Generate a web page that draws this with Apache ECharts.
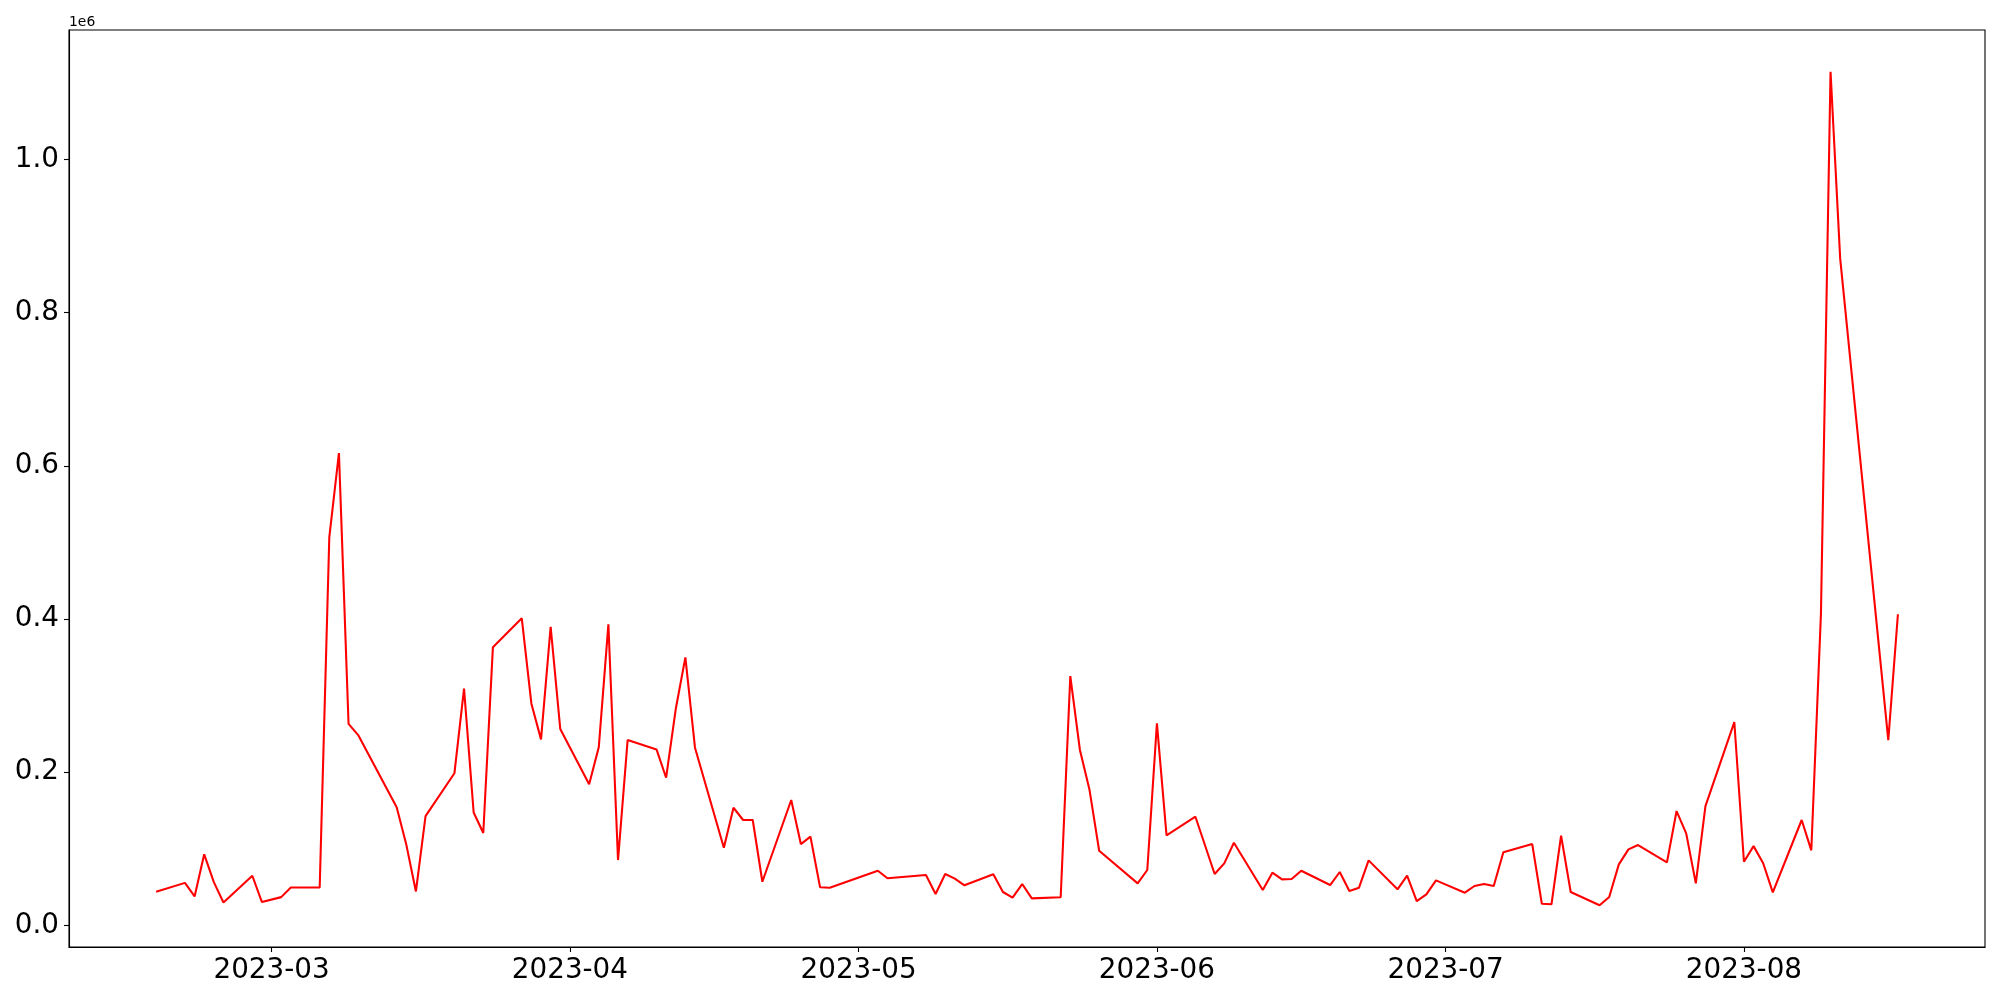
<!DOCTYPE html>
<html>
<head>
<meta charset="utf-8">
<script src="https://cdn.jsdelivr.net/npm/echarts@6/dist/echarts.min.js"></script>
<style>
  html, body { margin: 0; padding: 0; background: #fff; }
  #chart { width: 2000px; height: 1000px; }
</style>
</head>
<body>
<div id="chart"></div>
<script>
// ---- data ----
const dates = [
  "2023-02-17","2023-02-20","2023-02-21","2023-02-22","2023-02-23","2023-02-24","2023-02-27","2023-02-28",
  "2023-03-02","2023-03-03","2023-03-06","2023-03-07","2023-03-08","2023-03-09","2023-03-10",
  "2023-03-14","2023-03-15","2023-03-16","2023-03-17","2023-03-20","2023-03-21","2023-03-22","2023-03-23","2023-03-24",
  "2023-03-27","2023-03-28","2023-03-29","2023-03-30","2023-03-31",
  "2023-04-03","2023-04-04","2023-04-05","2023-04-06","2023-04-07",
  "2023-04-10","2023-04-11","2023-04-12","2023-04-13","2023-04-14",
  "2023-04-17","2023-04-18","2023-04-19","2023-04-20","2023-04-21",
  "2023-04-24","2023-04-25","2023-04-26","2023-04-27","2023-04-28",
  "2023-05-03","2023-05-04","2023-05-08","2023-05-09","2023-05-10","2023-05-11","2023-05-12",
  "2023-05-15","2023-05-16","2023-05-17","2023-05-18","2023-05-19",
  "2023-05-22","2023-05-23","2023-05-24","2023-05-25","2023-05-26",
  "2023-05-30","2023-05-31","2023-06-01","2023-06-02",
  "2023-06-05","2023-06-07","2023-06-08","2023-06-09",
  "2023-06-12","2023-06-13","2023-06-14","2023-06-15","2023-06-16",
  "2023-06-19","2023-06-20","2023-06-21","2023-06-22","2023-06-23",
  "2023-06-26","2023-06-27","2023-06-28","2023-06-29","2023-06-30",
  "2023-07-03","2023-07-04","2023-07-05","2023-07-06","2023-07-07",
  "2023-07-10","2023-07-11","2023-07-12","2023-07-13","2023-07-14",
  "2023-07-17","2023-07-18","2023-07-19","2023-07-20","2023-07-21",
  "2023-07-24","2023-07-25","2023-07-26","2023-07-27","2023-07-28",
  "2023-07-31","2023-08-01","2023-08-02","2023-08-03","2023-08-04",
  "2023-08-07","2023-08-08","2023-08-09","2023-08-10","2023-08-11",
  "2023-08-16","2023-08-17"
];
const values = [
  43700, 55400, 37700, 92700, 56400, 29800, 64700, 30300,
  36800, 49300, 49300, 507000, 616700, 263000, 248400,
  154300, 105400, 44200, 142500, 198500, 309000, 147300, 120600, 363200,
  400900, 289400, 242800, 389800, 256300,
  184100, 232400, 393000, 85200, 241900,
  229700, 192700, 282400, 349800, 231900,
  101300, 153500, 137500, 137500, 56900,
  163600, 106100, 115700, 49600, 49100,
  71300, 61400, 65700, 40900, 67000, 60900, 52200,
  66600, 43500, 36100, 53900, 35200,
  36600, 325400, 228900, 176600, 97400,
  54800, 72200, 263700, 117500,
  141800, 67000, 80900, 107800,
  46100, 68700, 60000, 60400, 71300,
  52600, 69600, 44800, 49100, 84800,
  47000, 64800, 31700, 40500, 58700,
  42600, 51300, 53900, 51300, 95300,
  106100, 28200, 27400, 117000, 43500,
  26100, 36900, 79600, 99200, 104800,
  82200, 149200, 120100, 54800, 155700,
  265400, 83000, 103400, 81000, 43000,
  137500, 97900, 406100, 1114600, 870800,
  241900, 406100
];
const xTickLabels = ["2023-03","2023-04","2023-05","2023-06","2023-07","2023-08"];
const yTickValues = [0, 200000, 400000, 600000, 800000, 1000000];
const offsetText = "1e6";

// ---- build options ----
function toTs(s) {
  const p = s.split("-").map(Number);
  return Date.UTC(p[0], p[1] - 1, p[2] || 1);
}
function fmtMonth(v) {
  const d = new Date(v);
  const m = d.getUTCMonth() + 1;
  return d.getUTCFullYear() + "-" + (m < 10 ? "0" + m : m);
}
const seriesData = dates.map((d, i) => [toTs(d), values[i]]);
const xs = seriesData.map(p => p[0]);
const xMinD = Math.min(...xs), xMaxD = Math.max(...xs);
const xPad = (xMaxD - xMinD) * 0.05;
const yMinD = Math.min(...values), yMaxD = Math.max(...values);
const yPad = (yMaxD - yMinD) * 0.05;
const xTickValues = xTickLabels.map(toTs);

const FONT = "DejaVu Sans";
const chart = echarts.init(document.getElementById("chart"), null, { renderer: "canvas" });
chart.setOption({
  animation: false,
  backgroundColor: "#ffffff",
  grid: {
    left: 69, right: 15, top: 30, bottom: 53,
    show: true, borderColor: "#000", borderWidth: 1.1, backgroundColor: "transparent"
  },
  xAxis: {
    type: "value",
    min: xMinD - xPad,
    max: xMaxD + xPad,
    splitLine: { show: false },
    axisLine: { show: true, onZero: false, lineStyle: { color: "#000", width: 1.1 } },
    axisTick: { show: true, length: 5, lineStyle: { color: "#000", width: 1.1 }, customValues: xTickValues },
    axisLabel: {
      customValues: xTickValues,
      margin: 10,
      fontFamily: FONT,
      fontSize: 27.8,
      color: "#000",
      formatter: fmtMonth
    }
  },
  yAxis: {
    type: "value",
    min: yMinD - yPad,
    max: yMaxD + yPad,
    splitLine: { show: false },
    axisLine: { show: true, onZero: false, lineStyle: { color: "#000", width: 1.1 } },
    axisTick: { show: true, length: 5, lineStyle: { color: "#000", width: 1.1 }, customValues: yTickValues },
    axisLabel: {
      customValues: yTickValues,
      margin: 10,
      fontFamily: FONT,
      fontSize: 27.8,
      color: "#000",
      formatter: function (v) { return (v / 1e6).toFixed(1); }
    }
  },
  graphic: [{
    type: "text",
    left: 69,
    top: 15,
    style: { text: offsetText, font: "13.9px 'DejaVu Sans'", fill: "#000" }
  }],
  series: [{
    type: "line",
    data: seriesData,
    showSymbol: false,
    symbol: "none",
    lineStyle: { color: "#ff0000", width: 2.08 },
    itemStyle: { color: "#ff0000" }
  }]
});
</script>
</body>
</html>
